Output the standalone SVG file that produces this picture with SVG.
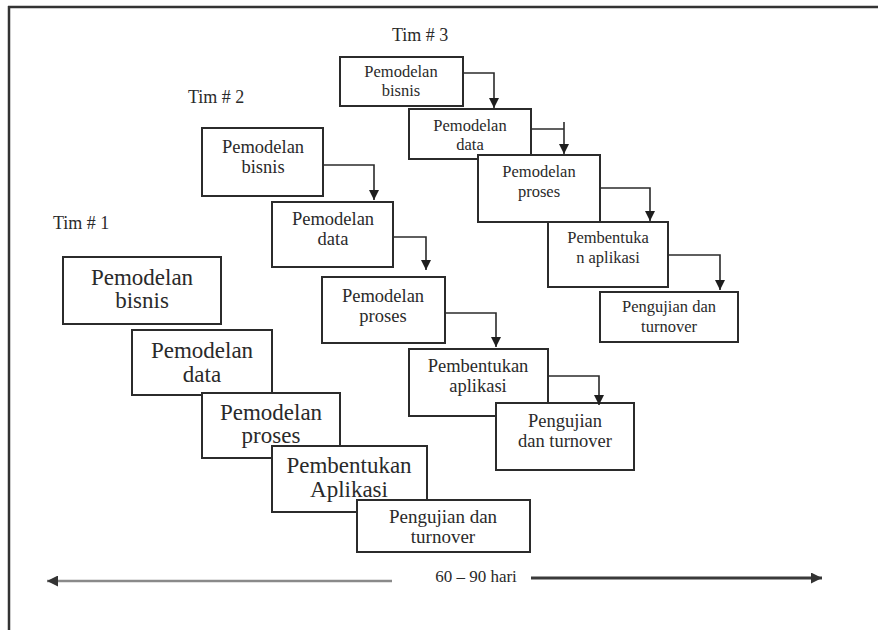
<svg xmlns="http://www.w3.org/2000/svg" width="878" height="630" viewBox="0 0 878 630">
  <style>
    .box rect { fill: #ffffff; stroke: #2b2b2b; stroke-width: 2; }
    text { font-family: 'Liberation Serif', 'DejaVu Serif', serif; fill: #2a2a2a; text-anchor: middle; }
    .t3 text { font-size: 16.5px; }
    .t2 text { font-size: 18.5px; }
    .t1 text { font-size: 23px; }
    .t1 .sm { font-size: 19px; }
    .label { font-size: 18px; text-anchor: start; }
    .conn path { fill: none; stroke: #2b2b2b; stroke-width: 1.6; }
  </style>
  <defs>
    <marker id="arrow" viewBox="0 0 10 10" refX="10" refY="5" markerWidth="10" markerHeight="10" markerUnits="userSpaceOnUse" orient="auto">
      <path d="M0,0 L10,5 L0,10 Z" fill="#1e1e1e"/>
    </marker>
    <marker id="arrowL" viewBox="0 0 10 10" refX="10" refY="5" markerWidth="11" markerHeight="11" markerUnits="userSpaceOnUse" orient="auto">
      <path d="M0,0 L10,5 L0,10 Z" fill="#333"/>
    </marker>
  </defs>

  <!-- page frame -->
  <g id="frame" stroke="#333" stroke-width="2.5" fill="none">
    <line x1="8" y1="7" x2="878" y2="7"/>
    <line x1="9" y1="6" x2="9" y2="630"/>
  </g>

  <!-- team labels -->
  <text id="label-tim3" class="label" x="392" y="41">Tim # 3</text>
  <text id="label-tim2" class="label" x="188" y="103">Tim # 2</text>
  <text id="label-tim1" class="label" x="53" y="229">Tim # 1</text>

  <!-- Tim 3 -->
  <g id="t3-bisnis" class="box t3">
    <rect x="340" y="57" width="123" height="49"/>
    <text x="401" y="77">Pemodelan</text>
    <text x="401" y="96">bisnis</text>
  </g>
  <g id="t3-data" class="box t3">
    <rect x="409" y="109" width="122" height="50"/>
    <text x="470" y="131">Pemodelan</text>
    <text x="470" y="150">data</text>
  </g>
  <g id="t3-proses" class="box t3">
    <rect x="478" y="155" width="122" height="67"/>
    <text x="539" y="177">Pemodelan</text>
    <text x="539" y="197">proses</text>
  </g>
  <g id="t3-aplikasi" class="box t3">
    <rect x="548" y="222" width="120" height="65"/>
    <text x="608" y="243">Pembentuka</text>
    <text x="608" y="263">n aplikasi</text>
  </g>
  <g id="t3-pengujian" class="box t3">
    <rect x="600" y="292" width="138" height="50"/>
    <text x="669" y="312">Pengujian dan</text>
    <text x="669" y="332">turnover</text>
  </g>

  <!-- Tim 2 -->
  <g id="t2-bisnis" class="box t2">
    <rect x="202" y="128" width="121" height="68"/>
    <text x="263" y="153">Pemodelan</text>
    <text x="263" y="173">bisnis</text>
  </g>
  <g id="t2-data" class="box t2">
    <rect x="272" y="202" width="121" height="65"/>
    <text x="333" y="225">Pemodelan</text>
    <text x="333" y="245">data</text>
  </g>
  <g id="t2-proses" class="box t2">
    <rect x="322" y="277" width="123" height="66"/>
    <text x="383" y="302">Pemodelan</text>
    <text x="383" y="322">proses</text>
  </g>
  <g id="t2-aplikasi" class="box t2">
    <rect x="409" y="349" width="139" height="67"/>
    <text x="478" y="372">Pembentukan</text>
    <text x="478" y="392">aplikasi</text>
  </g>
  <g id="t2-pengujian" class="box t2">
    <rect x="496" y="403" width="138" height="67"/>
    <text x="565" y="427">Pengujian</text>
    <text x="565" y="447">dan turnover</text>
  </g>

  <!-- Tim 1 -->
  <g id="t1-bisnis" class="box t1">
    <rect x="63" y="257" width="158" height="67"/>
    <text x="142" y="285">Pemodelan</text>
    <text x="142" y="308">bisnis</text>
  </g>
  <g id="t1-data" class="box t1">
    <rect x="132" y="330" width="140" height="65"/>
    <text x="202" y="358">Pemodelan</text>
    <text x="202" y="382">data</text>
  </g>
  <g id="t1-proses" class="box t1">
    <rect x="202" y="393" width="138" height="65"/>
    <text x="271" y="420">Pemodelan</text>
    <text x="271" y="443">proses</text>
  </g>
  <g id="t1-aplikasi" class="box t1">
    <rect x="272" y="446" width="155" height="66"/>
    <text x="349" y="473">Pembentukan</text>
    <text x="349" y="497">Aplikasi</text>
  </g>
  <g id="t1-pengujian" class="box t1">
    <rect x="357" y="500" width="173" height="52"/>
    <text class="sm" x="443" y="523">Pengujian dan</text>
    <text class="sm" x="443" y="543">turnover</text>
  </g>

  <!-- step connectors -->
  <g id="connectors" class="conn">
    <path d="M463,73 H494 V108" marker-end="url(#arrow)"/>
    <path d="M531,129 H564"/>
    <path d="M564,122 V154" marker-end="url(#arrow)"/>
    <path d="M600,188 H650 V221" marker-end="url(#arrow)"/>
    <path d="M668,255 H720 V290" marker-end="url(#arrow)"/>
    <path d="M323,165 H374 V200" marker-end="url(#arrow)"/>
    <path d="M393,237 H426 V270" marker-end="url(#arrow)"/>
    <path d="M445,313 H496 V347" marker-end="url(#arrow)"/>
    <path d="M548,376 H599 V405" marker-end="url(#arrow)"/>
  </g>

  <!-- time span -->
  <g id="timespan">
    <line x1="392" y1="581" x2="47" y2="581" stroke="#8a8a8a" stroke-width="2.5" marker-end="url(#arrowL)"/>
    <line x1="531" y1="578" x2="822" y2="578" stroke="#3a3a3a" stroke-width="3" marker-end="url(#arrowL)"/>
    <text x="476" y="582" style="font-size:17px">60 – 90 hari</text>
  </g>
</svg>
